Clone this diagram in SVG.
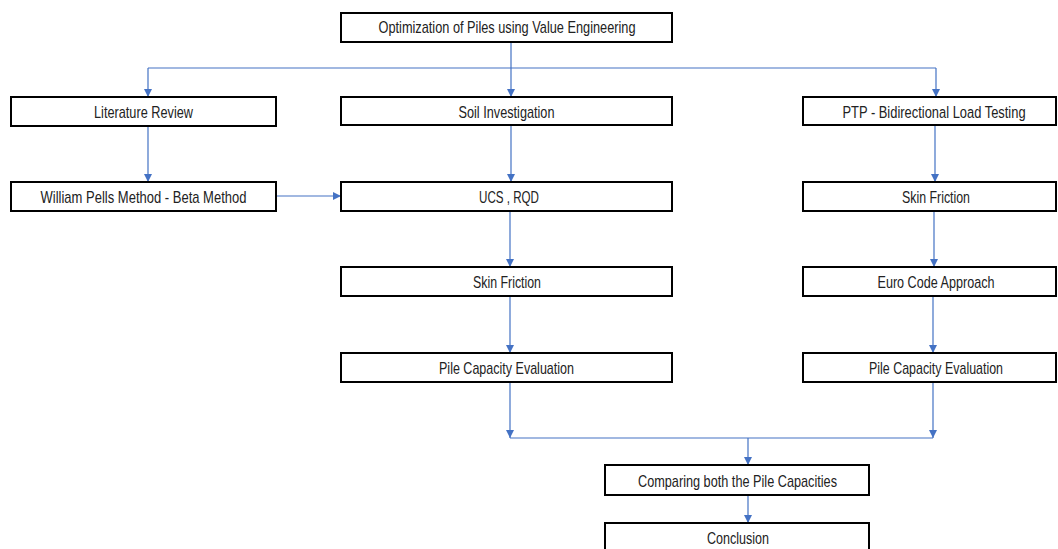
<svg xmlns="http://www.w3.org/2000/svg" width="1058" height="549" viewBox="0 0 1058 549">
<style>
.box{fill:#fff;stroke:#000;stroke-width:2}
.t{font-family:"Liberation Sans",Arial,sans-serif;font-size:17px;fill:#222;text-anchor:middle}
.c{fill:none;stroke:#4472C4;stroke-width:1.2}
</style>
<defs>
<marker id="ah" markerUnits="userSpaceOnUse" markerWidth="8" markerHeight="10" refX="8" refY="4" orient="auto" viewBox="0 0 8 8">
<path d="M0,0 L8,4 L0,8 Z" fill="#4472C4"/>
</marker>
</defs>
<rect width="1058" height="549" fill="#fff"/>
<g id="connectors">
<path class="c" d="M511,42 V68 M148,68 H936"/>
<path class="c" d="M148,68 V97" marker-end="url(#ah)"/>
<path class="c" d="M511,68 V97" marker-end="url(#ah)"/>
<path class="c" d="M936,68 V97" marker-end="url(#ah)"/>
<path class="c" d="M148,126 V182" marker-end="url(#ah)"/>
<path class="c" d="M276,196 H341" marker-end="url(#ah)"/>
<path class="c" d="M511,125 V182" marker-end="url(#ah)"/>
<path class="c" d="M935,125 V182" marker-end="url(#ah)"/>
<path class="c" d="M510,211 V267" marker-end="url(#ah)"/>
<path class="c" d="M934,211 V267" marker-end="url(#ah)"/>
<path class="c" d="M510,296 V353" marker-end="url(#ah)"/>
<path class="c" d="M933,296 V353" marker-end="url(#ah)"/>
<path class="c" d="M510,382 V438" marker-end="url(#ah)"/>
<path class="c" d="M933,382 V438" marker-end="url(#ah)"/>
<path class="c" d="M510,438 H933"/>
<path class="c" d="M748,438 V465" marker-end="url(#ah)"/>
<path class="c" d="M748,495 V523" marker-end="url(#ah)"/>
</g>
<g id="n-top"><rect class="box" x="341" y="13" width="331" height="29"/><text class="t" x="507" y="33" textLength="257" lengthAdjust="spacingAndGlyphs">Optimization of Piles using Value Engineering</text></g>
<g id="n-lit"><rect class="box" x="11" y="97" width="265" height="29"/><text class="t" x="143.5" y="118" textLength="99" lengthAdjust="spacingAndGlyphs">Literature Review</text></g>
<g id="n-soil"><rect class="box" x="341" y="97" width="331" height="28"/><text class="t" x="506.5" y="118" textLength="96" lengthAdjust="spacingAndGlyphs">Soil Investigation</text></g>
<g id="n-ptp"><rect class="box" x="803" y="97" width="253" height="28"/><text class="t" transform="translate(934,118) scale(0.76,1)">PTP - Bidirectional Load Testing</text></g>
<g id="n-william"><rect class="box" x="11" y="182" width="265" height="29"/><text class="t" x="143.5" y="203" textLength="206" lengthAdjust="spacingAndGlyphs">William Pells Method - Beta Method</text></g>
<g id="n-ucs"><rect class="box" x="341" y="182" width="331" height="29"/><text class="t" x="509" y="203" textLength="60" lengthAdjust="spacingAndGlyphs">UCS , RQD</text></g>
<g id="n-skinR"><rect class="box" x="803" y="182" width="253" height="29"/><text class="t" x="936" y="203" textLength="68" lengthAdjust="spacingAndGlyphs">Skin Friction</text></g>
<g id="n-skinM"><rect class="box" x="341" y="267" width="331" height="29"/><text class="t" x="507" y="288" textLength="68" lengthAdjust="spacingAndGlyphs">Skin Friction</text></g>
<g id="n-euro"><rect class="box" x="803" y="267" width="253" height="29"/><text class="t" x="936" y="288" textLength="117" lengthAdjust="spacingAndGlyphs">Euro Code Approach</text></g>
<g id="n-pileM"><rect class="box" x="341" y="353" width="331" height="29"/><text class="t" x="506.5" y="374" textLength="135" lengthAdjust="spacingAndGlyphs">Pile Capacity Evaluation</text></g>
<g id="n-pileR"><rect class="box" x="803" y="353" width="253" height="29"/><text class="t" x="936" y="374" textLength="134" lengthAdjust="spacingAndGlyphs">Pile Capacity Evaluation</text></g>
<g id="n-compare"><rect class="box" x="605" y="465" width="264" height="30"/><text class="t" x="737.5" y="487" textLength="199" lengthAdjust="spacingAndGlyphs">Comparing both the Pile Capacities</text></g>
<g id="n-conclusion"><rect class="box" x="605" y="523" width="264" height="32"/><text class="t" x="738" y="544" textLength="62" lengthAdjust="spacingAndGlyphs">Conclusion</text></g>
</svg>
